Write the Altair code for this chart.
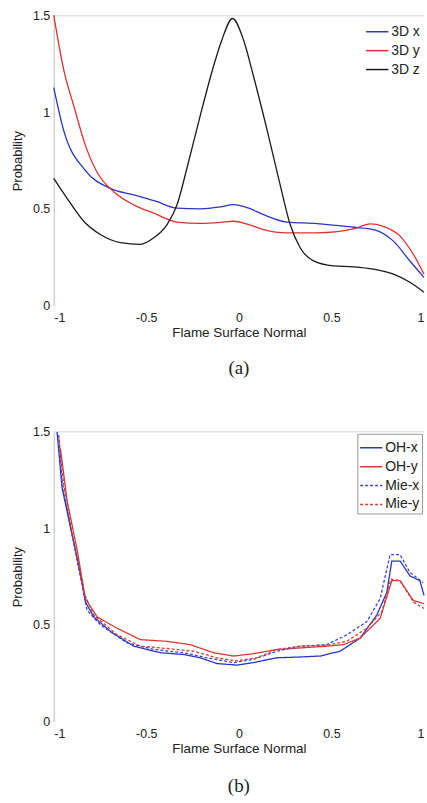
import altair as alt
import pandas as pd

# ---------------- Panel (a) data ----------------
a_x_x = [-1, -0.946, -0.83, -0.694, -0.568, -0.45, -0.334, -0.209, -0.1, -0.03, 0.05, 0.133, 0.259, 0.421, 0.619, 0.727, 0.835, 0.924, 1.0]
a_x_y = [1.128, 0.905, 0.70, 0.606, 0.572, 0.54, 0.504, 0.50, 0.51, 0.522, 0.505, 0.47, 0.432, 0.424, 0.405, 0.393, 0.333, 0.23, 0.145]

a_y_x = [-1, -0.946, -0.892, -0.829, -0.766, -0.676, -0.568, -0.46, -0.334, -0.209, -0.1, -0.03, 0.05, 0.133, 0.259, 0.421, 0.619, 0.709, 0.78, 0.871, 0.942, 1.0]
a_y_y = [1.503, 1.22, 1.034, 0.829, 0.69, 0.589, 0.521, 0.478, 0.432, 0.425, 0.43, 0.436, 0.42, 0.393, 0.376, 0.376, 0.396, 0.422, 0.41, 0.359, 0.265, 0.162]

a_z_x = [-1, -0.928, -0.838, -0.748, -0.64, -0.532, -0.46, -0.388, -0.334, -0.281, -0.209, -0.137, -0.092, -0.034, 0.025, 0.079, 0.151, 0.223, 0.277, 0.331, 0.403, 0.511, 0.619, 0.727, 0.835, 0.924, 1.0]
a_z_y = [0.658, 0.555, 0.436, 0.367, 0.325, 0.316, 0.35, 0.419, 0.521, 0.709, 0.982, 1.239, 1.375, 1.486, 1.375, 1.187, 0.914, 0.624, 0.419, 0.299, 0.231, 0.205, 0.2, 0.188, 0.162, 0.12, 0.068]

a_series = ["3D x", "3D y", "3D z"]
a_colors = ["#2a35c0", "#e03030", "#1a1a1a"]

# ---------------- Panel (b) data ----------------
b_ohx_x = [-0.982, -0.955, -0.91, -0.856, -0.829, -0.784, -0.694, -0.568, -0.424, -0.298, -0.209, -0.119, -0.011, 0.079, 0.205, 0.331, 0.439, 0.547, 0.655, 0.745, 0.799, 0.826, 0.871, 0.924, 0.978, 1.0]
b_ohx_y = [1.5, 1.21, 1.008, 0.771, 0.619, 0.542, 0.466, 0.39, 0.356, 0.347, 0.33, 0.30, 0.292, 0.305, 0.33, 0.334, 0.339, 0.364, 0.432, 0.551, 0.669, 0.831, 0.831, 0.754, 0.729, 0.653]

b_ohy_x = [-0.964, -0.928, -0.874, -0.829, -0.766, -0.658, -0.532, -0.388, -0.263, -0.137, -0.029, 0.079, 0.205, 0.331, 0.475, 0.565, 0.655, 0.763, 0.826, 0.871, 0.942, 1.0]
b_ohy_y = [1.415, 1.144, 0.89, 0.636, 0.542, 0.483, 0.424, 0.415, 0.398, 0.356, 0.339, 0.351, 0.373, 0.381, 0.39, 0.398, 0.432, 0.534, 0.729, 0.729, 0.627, 0.61]

b_miex_x = [-0.973, -0.955, -0.91, -0.847, -0.82, -0.748, -0.604, -0.46, -0.298, -0.173, -0.029, 0.079, 0.205, 0.331, 0.475, 0.583, 0.691, 0.763, 0.817, 0.871, 0.924, 0.996]
b_miex_y = [1.483, 1.246, 1.008, 0.703, 0.576, 0.5, 0.407, 0.373, 0.356, 0.33, 0.305, 0.322, 0.364, 0.39, 0.398, 0.449, 0.517, 0.636, 0.864, 0.864, 0.771, 0.72]

b_miey_x = [-0.973, -0.946, -0.901, -0.838, -0.784, -0.658, -0.532, -0.388, -0.245, -0.119, -0.011, 0.097, 0.205, 0.331, 0.475, 0.583, 0.691, 0.772, 0.821, 0.871, 0.942, 1.0]
b_miey_y = [1.466, 1.229, 0.975, 0.669, 0.551, 0.449, 0.39, 0.378, 0.364, 0.33, 0.314, 0.33, 0.373, 0.39, 0.395, 0.415, 0.483, 0.568, 0.737, 0.729, 0.619, 0.585]

b_series = ["OH-x", "OH-y", "Mie-x", "Mie-y"]
b_colors = ["#2a35c0", "#d83a30", "#3a45d8", "#cc4040"]
b_dashes = [[1, 0], [1, 0], [3, 2], [3, 2]]

x_ticks = [-1, -0.5, 0, 0.5, 1]
y_ticks = [0, 0.5, 1, 1.5]

FONT = "Liberation Sans"
W, H = 372, 291


def frame(xs_list, ys_list, names):
    rows = []
    for xs, ys, n in zip(xs_list, ys_list, names):
        for i, (xv, yv) in enumerate(zip(xs, ys)):
            rows.append({"x": xv, "y": yv, "series": n, "order": i})
    return pd.DataFrame(rows)


df_a = frame([a_x_x, a_y_x, a_z_x], [a_x_y, a_y_y, a_z_y], a_series)
df_b = frame([b_ohx_x, b_ohy_x, b_miex_x, b_miey_x], [b_ohx_y, b_ohy_y, b_miex_y, b_miey_y], b_series)

x_enc = alt.X("x:Q", scale=alt.Scale(domain=[-1, 1], nice=False),
              axis=alt.Axis(title="Flame Surface Normal", values=x_ticks,
                            labelExpr="datum.value + ''",
                            domain=False, ticks=False, grid=False,
                            labelFont=FONT, labelFontSize=12.5, labelColor="#222",
                            labelPadding=6, titleFont=FONT, titleFontSize=13.5,
                            titleFontWeight="normal", titleColor="#222", titlePadding=2))
y_enc = alt.Y("y:Q", scale=alt.Scale(domain=[0, 1.5], nice=False),
              axis=alt.Axis(title="Probability", values=y_ticks,
                            labelExpr="datum.value + ''",
                            domain=True, domainColor="#bbbbbb", ticks=False, grid=False,
                            labelFont=FONT, labelFontSize=12.5, labelColor="#222",
                            labelPadding=4, titleFont=FONT, titleFontSize=13,
                            titleFontWeight="normal", titleColor="#222", titlePadding=8))


def top_rule():
    return alt.Chart(pd.DataFrame({"y": [1.5]})).mark_rule(color="#d8d8d8", strokeWidth=1).encode(
        y=alt.Y("y:Q", scale=alt.Scale(domain=[0, 1.5], nice=False)))


def legend(boxed):
    kw = dict(title=None, orient="top-right", offset=2,
              symbolType="stroke", symbolSize=500, symbolStrokeWidth=1.5,
              labelFont=FONT, labelFontSize=14, labelColor="#222",
              rowPadding=-5, labelOffset=2, padding=2)
    if boxed:
        kw.update(strokeColor="#999", fillColor="white")
    else:
        kw.update(strokeColor="transparent")
    return alt.Legend(**kw)


lines_a = alt.Chart(df_a).mark_line(strokeWidth=1.3, interpolate="monotone").encode(
    x=x_enc, y=y_enc, order="order:Q",
    color=alt.Color("series:N", scale=alt.Scale(domain=a_series, range=a_colors),
                    legend=legend(False)),
)

panel_a = alt.layer(top_rule(), lines_a).properties(
    width=W, height=H,
    title=alt.TitleParams("(a)", orient="bottom", font="Liberation Serif", fontSize=19,
                          fontWeight="normal", color="#222", offset=20, anchor="middle"))

lines_b = alt.Chart(df_b).mark_line(strokeWidth=1.3).encode(
    x=x_enc, y=y_enc, order="order:Q",
    color=alt.Color("series:N", scale=alt.Scale(domain=b_series, range=b_colors),
                    legend=legend(True)),
    strokeDash=alt.StrokeDash("series:N", scale=alt.Scale(domain=b_series, range=b_dashes),
                              legend=legend(True)),
)

panel_b = alt.layer(top_rule(), lines_b).properties(
    width=W, height=H,
    title=alt.TitleParams("(b)", orient="bottom", font="Liberation Serif", fontSize=19,
                          fontWeight="normal", color="#222", offset=22, anchor="middle"))

chart = alt.vconcat(panel_a, panel_b, spacing=48).resolve_scale(
    color="independent", strokeDash="independent"
).resolve_legend(color="independent", strokeDash="independent").configure(
    padding={"left": 11, "top": 8, "right": 0, "bottom": 0}
).configure_view(stroke=None)

chart.save("out.html", embed_options={"renderer": "svg", "actions": False})
